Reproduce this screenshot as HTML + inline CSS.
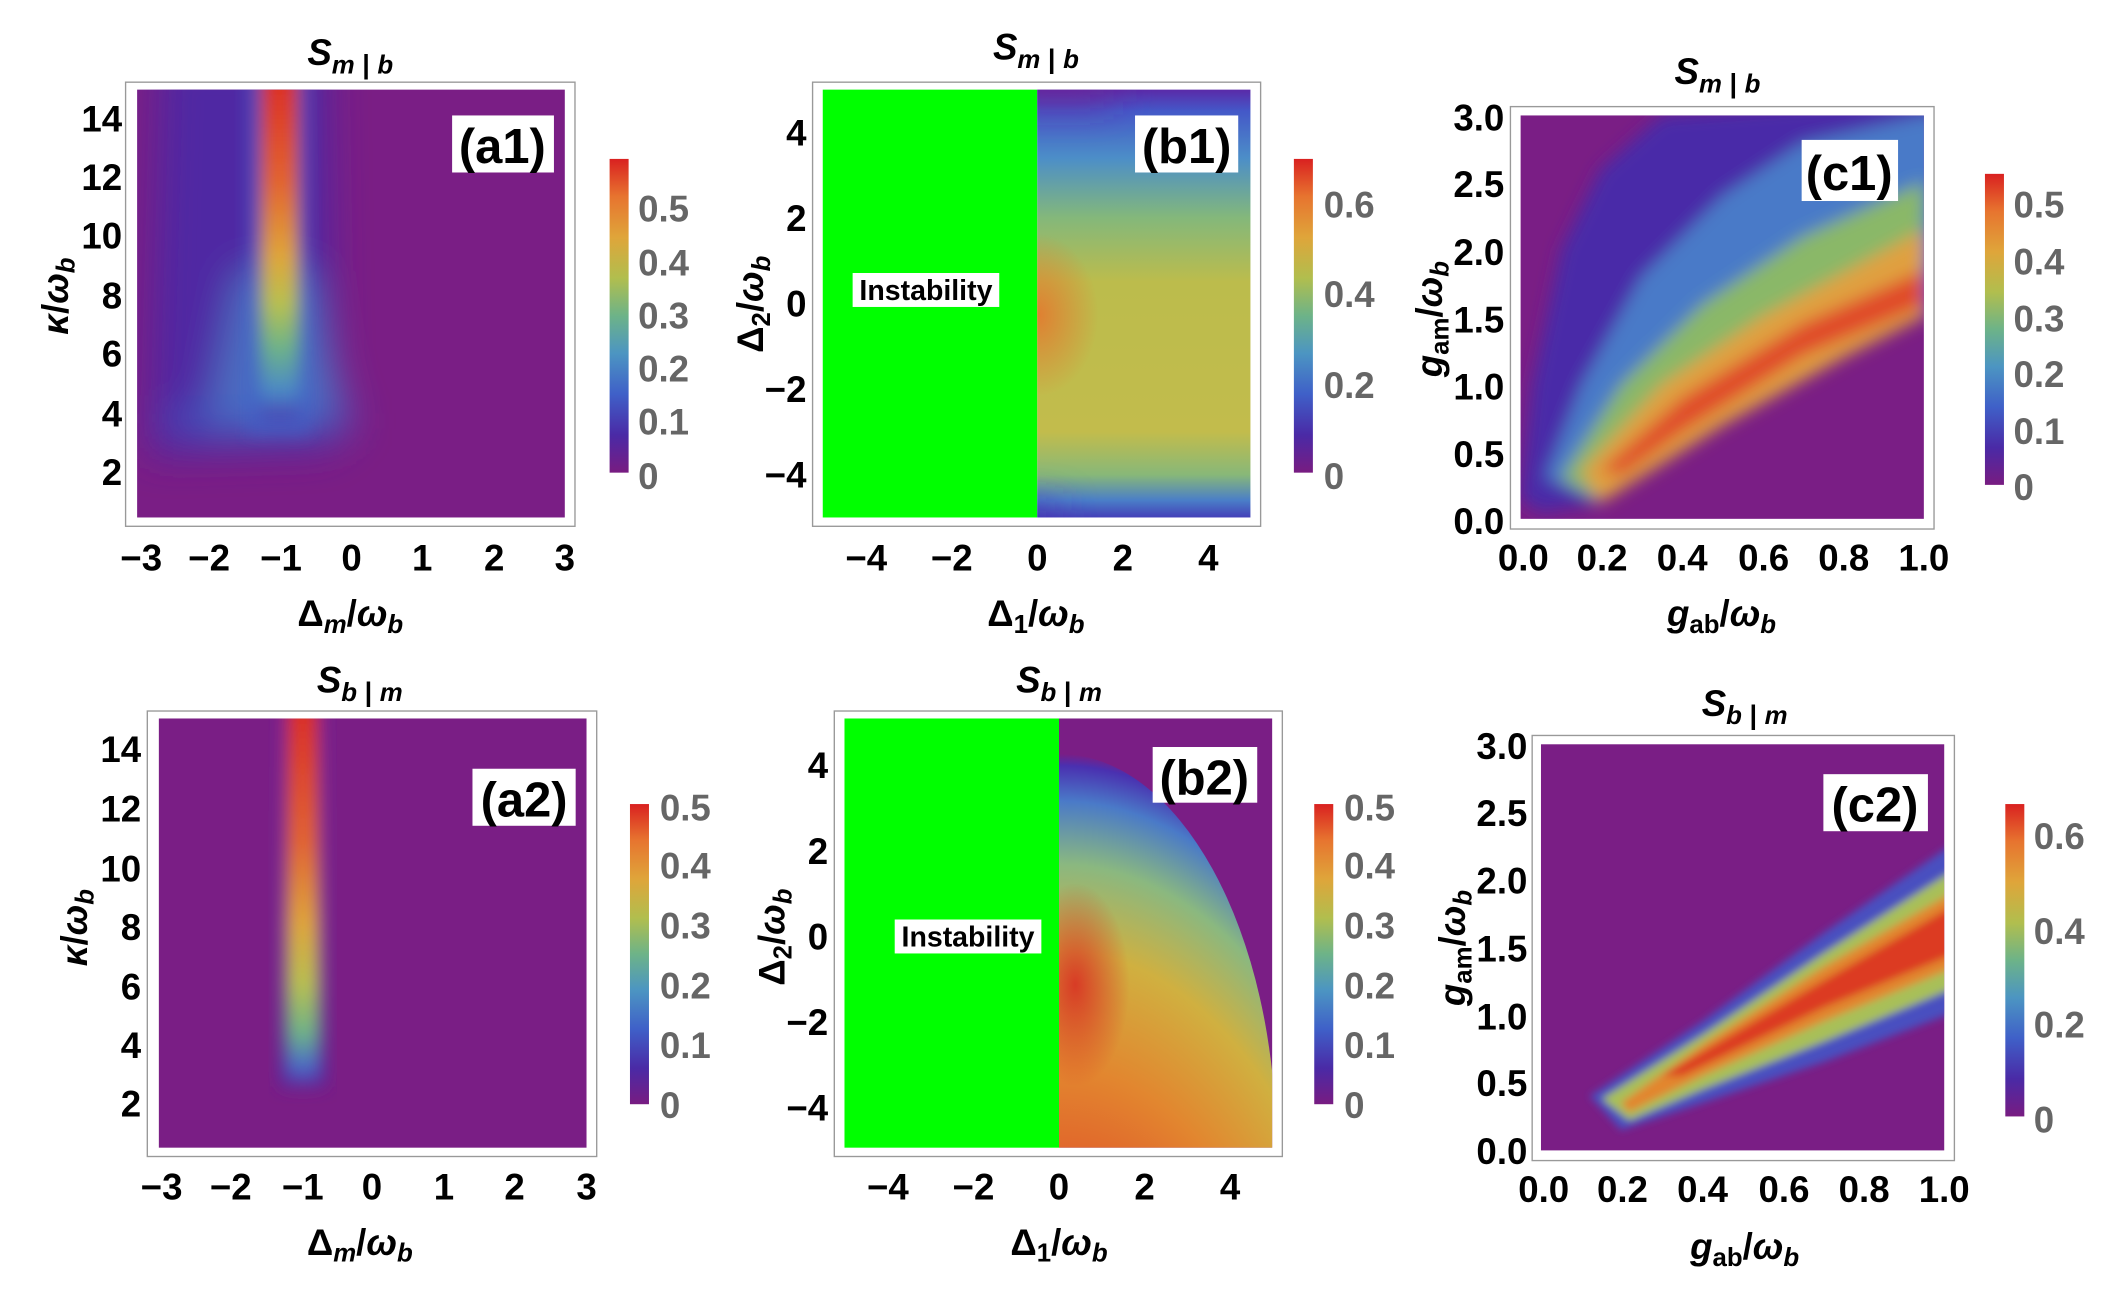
<!DOCTYPE html>
<html><head><meta charset="utf-8"><style>
html,body{margin:0;padding:0;background:#fff;overflow:hidden;width:2118px;height:1293px;}
svg{display:block;}
text{font-family:"Liberation Sans",Arial,sans-serif;font-weight:bold;}
.t{font-size:27px;fill:#000;}
.cb{font-size:27px;fill:#666;}
.ti{font-size:27px;font-style:italic;font-weight:bold;}
.lab{font-size:36px;}
</style></head><body>
<svg width="2118" height="1293" viewBox="0 0 1560 952" preserveAspectRatio="none" xmlns="http://www.w3.org/2000/svg">
<defs>
<linearGradient id="rb" x1="0" y1="1" x2="0" y2="0">
<stop offset="0" stop-color="#781c81"/><stop offset="0.12" stop-color="#4a2aa6"/><stop offset="0.25" stop-color="#3f60c8"/><stop offset="0.38" stop-color="#4c95c2"/><stop offset="0.5" stop-color="#6db388"/><stop offset="0.62" stop-color="#b1be4e"/><stop offset="0.75" stop-color="#dfa53a"/><stop offset="0.88" stop-color="#e7742f"/><stop offset="1" stop-color="#d92120"/>
</linearGradient>
<filter id="bl" x="-20%" y="-20%" width="140%" height="140%"><feGaussianBlur stdDeviation="6"/></filter>
<filter id="bl2" x="-20%" y="-20%" width="140%" height="140%"><feGaussianBlur stdDeviation="3"/></filter>
<filter id="bl3" x="-50%" y="-50%" width="200%" height="200%"><feGaussianBlur stdDeviation="14"/></filter>
<clipPath id="ca1"><rect x="101" y="66" width="315" height="315"/></clipPath>
<clipPath id="ca2"><rect x="117" y="529" width="315" height="316"/></clipPath>
<clipPath id="cb1"><rect x="764" y="66" width="157" height="315"/></clipPath>
<clipPath id="cb2"><rect x="780" y="529" width="157" height="316"/></clipPath>
<clipPath id="cc1"><rect x="1120" y="85" width="297" height="297"/></clipPath>
<clipPath id="cc2"><rect x="1135" y="548" width="297" height="299"/></clipPath>
<linearGradient id="band1" x1="0" y1="0" x2="0" y2="1">
<stop offset="0" stop-color="#d92120"/><stop offset="0.35" stop-color="#e2642f"/><stop offset="0.55" stop-color="#dfa53a"/><stop offset="0.68" stop-color="#b8c050"/><stop offset="0.8" stop-color="#6db388"/><stop offset="0.92" stop-color="#4a88c8"/><stop offset="1" stop-color="#4a3ab0"/>
</linearGradient>
<linearGradient id="band2" x1="0" y1="0" x2="0" y2="1">
<stop offset="0" stop-color="#d92120"/><stop offset="0.4" stop-color="#e2642f"/><stop offset="0.6" stop-color="#dfa53a"/><stop offset="0.75" stop-color="#b8c050"/><stop offset="0.87" stop-color="#6db388"/><stop offset="0.95" stop-color="#4a6ac8"/><stop offset="1" stop-color="#5a2aa0"/>
</linearGradient>
<linearGradient id="b1g" x1="0" y1="0" x2="0" y2="1">
<stop offset="0" stop-color="#5a2aa8"/><stop offset="0.05" stop-color="#4458c8"/><stop offset="0.16" stop-color="#4c8ec8"/><stop offset="0.3" stop-color="#84b87a"/><stop offset="0.45" stop-color="#bcbc4c"/><stop offset="0.8" stop-color="#c2bc4c"/><stop offset="0.9" stop-color="#88b878"/><stop offset="0.96" stop-color="#4a7ec8"/><stop offset="1" stop-color="#4440b8"/>
</linearGradient>
<radialGradient id="b2g" cx="0.5" cy="1" r="1" fx="0.5" fy="1">
<stop offset="0" stop-color="#4a40b8"/><stop offset="0.08" stop-color="#6db388"/><stop offset="0.2" stop-color="#dfa53a"/><stop offset="0.45" stop-color="#e05a2a"/><stop offset="0.6" stop-color="#e2862f"/><stop offset="0.75" stop-color="#d0b040"/><stop offset="0.86" stop-color="#8ab880"/><stop offset="0.94" stop-color="#4a7ac8"/><stop offset="0.985" stop-color="#4a30b0"/><stop offset="1" stop-color="#7a1e85"/>
</radialGradient>
<radialGradient id="redblob"><stop offset="0" stop-color="#d92120" stop-opacity="0.8"/><stop offset="1" stop-color="#d92120" stop-opacity="0"/></radialGradient>
<radialGradient id="orblob"><stop offset="0" stop-color="#e4782e" stop-opacity="0.9"/><stop offset="1" stop-color="#e4782e" stop-opacity="0"/></radialGradient>
</defs>

<!-- ================= a1 ================= -->
<text class="ti" x="258" y="48" text-anchor="middle">S<tspan font-size="19" dy="6">m</tspan><tspan font-size="20" font-style="normal"> | </tspan><tspan font-size="19">b</tspan></text>
<rect x="92.5" y="60.5" width="331" height="327" fill="none" stroke="#999" stroke-width="1"/>
<rect x="101" y="66" width="315" height="315" fill="#7a1e85"/>
<g clip-path="url(#ca1)">
<g filter="url(#bl3)">
<path d="M118,40 L240,40 L245,330 L110,335 Z" fill="#4a2aa6" opacity="0.9"/>
<path d="M175,200 L230,200 L255,310 L150,318 Z" fill="#4a7ac8" opacity="0.85"/>
<rect x="120" y="300" width="140" height="20" fill="#3f60c8" opacity="0.5"/>
</g>
<g filter="url(#bl)">
<rect x="182" y="40" width="46" height="280" fill="#3f60c8" opacity="0.6"/>
<rect x="192" y="40" width="28" height="270" fill="url(#band1)"/>
</g>
</g>
<rect x="333" y="85" width="75" height="42" fill="#fff"/>
<text class="lab" x="370" y="120" text-anchor="middle">(a1)</text>
<g class="t" text-anchor="end">
<text x="90" y="97">14</text><text x="90" y="140">12</text><text x="90" y="183">10</text><text x="90" y="227">8</text><text x="90" y="270">6</text><text x="90" y="314">4</text><text x="90" y="357">2</text>
</g>
<g class="t" text-anchor="middle">
<text x="104" y="420">−3</text><text x="154" y="420">−2</text><text x="207" y="420">−1</text><text x="259" y="420">0</text><text x="311" y="420">1</text><text x="364" y="420">2</text><text x="416" y="420">3</text>
</g>
<text class="t" x="258" y="461" text-anchor="middle" font-size="27">Δ<tspan font-style="italic" font-size="19" dy="5">m</tspan><tspan dy="-5">/</tspan><tspan font-style="italic">ω</tspan><tspan font-style="italic" font-size="19" dy="5">b</tspan></text>
<text class="t" transform="translate(50,218) rotate(-90)" text-anchor="middle" font-size="27"><tspan font-style="italic">κ</tspan>/<tspan font-style="italic">ω</tspan><tspan font-style="italic" font-size="19" dy="5">b</tspan></text>
<rect x="449" y="117" width="14" height="231" fill="url(#rb)"/>
<g class="cb"><text x="470" y="163">0.5</text><text x="470" y="203">0.4</text><text x="470" y="242">0.3</text><text x="470" y="281">0.2</text><text x="470" y="320">0.1</text><text x="470" y="360">0</text></g>

<!-- ================= b1 ================= -->
<text class="ti" x="763" y="44" text-anchor="middle">S<tspan font-size="19" dy="6">m</tspan><tspan font-size="20" font-style="normal"> | </tspan><tspan font-size="19">b</tspan></text>
<rect x="598.5" y="60.5" width="330" height="327" fill="none" stroke="#999"/>
<rect x="606" y="66" width="158" height="315" fill="#00ff00"/>
<rect x="764" y="66" width="157" height="315" fill="url(#b1g)"/>
<g clip-path="url(#cb1)">
<ellipse cx="764" cy="232" rx="45" ry="60" fill="url(#orblob)"/>
<g filter="url(#bl3)"><rect x="740" y="45" width="80" height="30" fill="#6a2a9a" opacity="0.9"/><rect x="740" y="372" width="40" height="20" fill="#4a30b0" opacity="0.8"/></g>
</g>
<rect x="836" y="85" width="76" height="42" fill="#fff"/>
<text class="lab" x="874" y="120" text-anchor="middle">(b1)</text>
<rect x="628" y="201" width="108" height="25" fill="#fff"/>
<text x="682" y="221" text-anchor="middle" font-size="21">Instability</text>
<g class="t" text-anchor="end">
<text x="594" y="107">4</text><text x="594" y="170">2</text><text x="594" y="233">0</text><text x="594" y="296">−2</text><text x="594" y="359">−4</text>
</g>
<g class="t" text-anchor="middle">
<text x="638" y="420">−4</text><text x="701" y="420">−2</text><text x="764" y="420">0</text><text x="827" y="420">2</text><text x="890" y="420">4</text>
</g>
<text class="t" x="763" y="461" text-anchor="middle" font-size="27">Δ<tspan font-size="19" dy="5">1</tspan><tspan dy="-5">/</tspan><tspan font-style="italic">ω</tspan><tspan font-style="italic" font-size="19" dy="5">b</tspan></text>
<text class="t" transform="translate(562,224) rotate(-90)" text-anchor="middle" font-size="27">Δ<tspan font-size="19" dy="5">2</tspan><tspan dy="-5">/</tspan><tspan font-style="italic">ω</tspan><tspan font-style="italic" font-size="19" dy="5">b</tspan></text>
<rect x="953" y="117" width="14" height="231" fill="url(#rb)"/>
<g class="cb"><text x="975" y="160">0.6</text><text x="975" y="226">0.4</text><text x="975" y="293">0.2</text><text x="975" y="360">0</text></g>

<!-- ================= c1 ================= -->
<text class="ti" x="1265" y="62" text-anchor="middle">S<tspan font-size="19" dy="6">m</tspan><tspan font-size="20" font-style="normal"> | </tspan><tspan font-size="19">b</tspan></text>
<rect x="1112.5" y="78.5" width="312" height="311" fill="none" stroke="#999"/>
<rect x="1120" y="85" width="297" height="297" fill="#7a1e85"/>
<g clip-path="url(#cc1)">
<g filter="url(#bl)">
<path d="M1120,367 L1129,283 L1150,184 L1179,125 L1224,85 L1440,70 L1440,233 L1417,233 L1358,263 L1269,313 L1179,370 L1135,377 Z" fill="#4a2aa8"/>
<path d="M1138,352 L1165,283 L1209,204 L1269,144 L1328,105 L1417,85 L1440,85 L1417,233 L1358,263 L1269,313 L1179,370 Z" fill="#4a7ac8"/>
<path d="M1150,352 L1194,283 L1254,224 L1328,174 L1417,134 L1417,233 L1358,263 L1269,313 L1179,370 Z" fill="#8ab868"/>
<path d="M1165,347 L1224,283 L1298,233 L1417,169 L1417,233 L1358,263 L1269,313 L1179,370 Z" fill="#e0a040"/>
<path d="M1179,347 L1239,293 L1328,238 L1417,199 L1417,225 L1328,262 L1239,318 L1194,350 Z" fill="#e04a2a"/>
</g>
</g>
<rect x="1327" y="103" width="71" height="45" fill="#fff"/>
<text class="lab" x="1362" y="140" text-anchor="middle">(c1)</text>
<g class="t" text-anchor="end">
<text x="1108" y="96">3.0</text><text x="1108" y="145">2.5</text><text x="1108" y="195">2.0</text><text x="1108" y="245">1.5</text><text x="1108" y="294">1.0</text><text x="1108" y="344">0.5</text><text x="1108" y="393">0.0</text>
</g>
<g class="t" text-anchor="middle">
<text x="1122" y="420">0.0</text><text x="1180" y="420">0.2</text><text x="1239" y="420">0.4</text><text x="1299" y="420">0.6</text><text x="1358" y="420">0.8</text><text x="1417" y="420">1.0</text>
</g>
<text class="t" x="1268" y="461" text-anchor="middle" font-size="27"><tspan font-style="italic">g</tspan><tspan font-size="19" dy="5">ab</tspan><tspan dy="-5">/</tspan><tspan font-style="italic">ω</tspan><tspan font-style="italic" font-size="19" dy="5">b</tspan></text>
<text class="t" transform="translate(1062,235) rotate(-90)" text-anchor="middle" font-size="27"><tspan font-style="italic">g</tspan><tspan font-size="19" dy="5">am</tspan><tspan dy="-5">/</tspan><tspan font-style="italic">ω</tspan><tspan font-style="italic" font-size="19" dy="5">b</tspan></text>
<rect x="1462" y="128" width="14" height="229" fill="url(#rb)"/>
<g class="cb"><text x="1483" y="160">0.5</text><text x="1483" y="202">0.4</text><text x="1483" y="244">0.3</text><text x="1483" y="285">0.2</text><text x="1483" y="327">0.1</text><text x="1483" y="368">0</text></g>

<!-- ================= a2 ================= -->
<text class="ti" x="265" y="510" text-anchor="middle">S<tspan font-size="19" dy="6">b</tspan><tspan font-size="20" font-style="normal"> | </tspan><tspan font-size="19">m</tspan></text>
<rect x="108.5" y="523.5" width="331" height="328" fill="none" stroke="#999"/>
<rect x="117" y="529" width="315" height="316" fill="#7a1e85"/>
<g clip-path="url(#ca2)">
<g filter="url(#bl)">
<rect x="205" y="500" width="36" height="300" fill="#4a2aa6" opacity="0.6"/>
<rect x="211" y="500" width="24" height="300" fill="url(#band2)"/>
</g>
</g>
<rect x="348" y="566" width="76" height="42" fill="#fff"/>
<text class="lab" x="386" y="601" text-anchor="middle">(a2)</text>
<g class="t" text-anchor="end">
<text x="104" y="561">14</text><text x="104" y="605">12</text><text x="104" y="649">10</text><text x="104" y="692">8</text><text x="104" y="736">6</text><text x="104" y="779">4</text><text x="104" y="822">2</text>
</g>
<g class="t" text-anchor="middle">
<text x="119" y="883">−3</text><text x="170" y="883">−2</text><text x="223" y="883">−1</text><text x="274" y="883">0</text><text x="327" y="883">1</text><text x="379" y="883">2</text><text x="432" y="883">3</text>
</g>
<text class="t" x="265" y="924" text-anchor="middle" font-size="27">Δ<tspan font-style="italic" font-size="19" dy="5">m</tspan><tspan dy="-5">/</tspan><tspan font-style="italic">ω</tspan><tspan font-style="italic" font-size="19" dy="5">b</tspan></text>
<text class="t" transform="translate(64,683) rotate(-90)" text-anchor="middle" font-size="27"><tspan font-style="italic">κ</tspan>/<tspan font-style="italic">ω</tspan><tspan font-style="italic" font-size="19" dy="5">b</tspan></text>
<rect x="464" y="592" width="14" height="221" fill="url(#rb)"/>
<g class="cb"><text x="486" y="604">0.5</text><text x="486" y="647">0.4</text><text x="486" y="691">0.3</text><text x="486" y="735">0.2</text><text x="486" y="779">0.1</text><text x="486" y="823">0</text></g>

<!-- ================= b2 ================= -->
<text class="ti" x="780" y="510" text-anchor="middle">S<tspan font-size="19" dy="6">b</tspan><tspan font-size="20" font-style="normal"> | </tspan><tspan font-size="19">m</tspan></text>
<rect x="614.5" y="523.5" width="330" height="328" fill="none" stroke="#999"/>
<rect x="622" y="529" width="158" height="316" fill="#00ff00"/>
<rect x="780" y="529" width="157" height="316" fill="#7a1e85"/>
<g clip-path="url(#cb2)">
<ellipse cx="780" cy="845" rx="160" ry="290" fill="url(#b2g)"/>
<ellipse cx="792" cy="725" rx="40" ry="75" fill="url(#redblob)"/>
</g>
<rect x="849" y="550" width="77" height="41" fill="#fff"/>
<text class="lab" x="887" y="585" text-anchor="middle">(b2)</text>
<rect x="659" y="677" width="108" height="25" fill="#fff"/>
<text x="713" y="697" text-anchor="middle" font-size="21">Instability</text>
<g class="t" text-anchor="end">
<text x="610" y="573">4</text><text x="610" y="636">2</text><text x="610" y="699">0</text><text x="610" y="762">−2</text><text x="610" y="825">−4</text>
</g>
<g class="t" text-anchor="middle">
<text x="654" y="883">−4</text><text x="717" y="883">−2</text><text x="780" y="883">0</text><text x="843" y="883">2</text><text x="906" y="883">4</text>
</g>
<text class="t" x="780" y="924" text-anchor="middle" font-size="27">Δ<tspan font-size="19" dy="5">1</tspan><tspan dy="-5">/</tspan><tspan font-style="italic">ω</tspan><tspan font-style="italic" font-size="19" dy="5">b</tspan></text>
<text class="t" transform="translate(578,690) rotate(-90)" text-anchor="middle" font-size="27">Δ<tspan font-size="19" dy="5">2</tspan><tspan dy="-5">/</tspan><tspan font-style="italic">ω</tspan><tspan font-style="italic" font-size="19" dy="5">b</tspan></text>
<rect x="968" y="592" width="14" height="221" fill="url(#rb)"/>
<g class="cb"><text x="990" y="604">0.5</text><text x="990" y="647">0.4</text><text x="990" y="691">0.3</text><text x="990" y="735">0.2</text><text x="990" y="779">0.1</text><text x="990" y="823">0</text></g>

<!-- ================= c2 ================= -->
<text class="ti" x="1285" y="527" text-anchor="middle">S<tspan font-size="19" dy="6">b</tspan><tspan font-size="20" font-style="normal"> | </tspan><tspan font-size="19">m</tspan></text>
<rect x="1128.5" y="541.5" width="311" height="313" fill="none" stroke="#999"/>
<rect x="1135" y="548" width="297" height="299" fill="#7a1e85"/>
<g clip-path="url(#cc2)">
<g filter="url(#bl2)">
<path d="M1171,807 L1254,752 L1343,687 L1440,620 L1440,745 L1343,782 L1254,812 L1194,832 Z" fill="#4a50c0"/>
<path d="M1180,809 L1254,762 L1343,702 L1440,640 L1440,727 L1343,767 L1254,802 L1200,825 Z" fill="#a8c058"/>
<path d="M1194,812 L1254,769 L1343,712 L1440,656 L1440,712 L1343,752 L1254,792 L1200,819 Z" fill="#e2862f"/>
<path d="M1224,792 L1343,722 L1440,666 L1440,702 L1343,742 L1239,792 Z" fill="#dc3a22"/>
</g>
</g>
<rect x="1343" y="570" width="77" height="42" fill="#fff"/>
<text class="lab" x="1381" y="605" text-anchor="middle">(c2)</text>
<g class="t" text-anchor="end">
<text x="1125" y="559">3.0</text><text x="1125" y="608">2.5</text><text x="1125" y="658">2.0</text><text x="1125" y="708">1.5</text><text x="1125" y="758">1.0</text><text x="1125" y="807">0.5</text><text x="1125" y="857">0.0</text>
</g>
<g class="t" text-anchor="middle">
<text x="1137" y="885">0.0</text><text x="1195" y="885">0.2</text><text x="1254" y="885">0.4</text><text x="1314" y="885">0.6</text><text x="1373" y="885">0.8</text><text x="1432" y="885">1.0</text>
</g>
<text class="t" x="1285" y="927" text-anchor="middle" font-size="27"><tspan font-style="italic">g</tspan><tspan font-size="19" dy="5">ab</tspan><tspan dy="-5">/</tspan><tspan font-style="italic">ω</tspan><tspan font-style="italic" font-size="19" dy="5">b</tspan></text>
<text class="t" transform="translate(1079,698) rotate(-90)" text-anchor="middle" font-size="27"><tspan font-style="italic">g</tspan><tspan font-size="19" dy="5">am</tspan><tspan dy="-5">/</tspan><tspan font-style="italic">ω</tspan><tspan font-style="italic" font-size="19" dy="5">b</tspan></text>
<rect x="1477" y="592" width="14" height="230" fill="url(#rb)"/>
<g class="cb"><text x="1498" y="625">0.6</text><text x="1498" y="695">0.4</text><text x="1498" y="764">0.2</text><text x="1498" y="834">0</text></g>
</svg>
</body></html>
